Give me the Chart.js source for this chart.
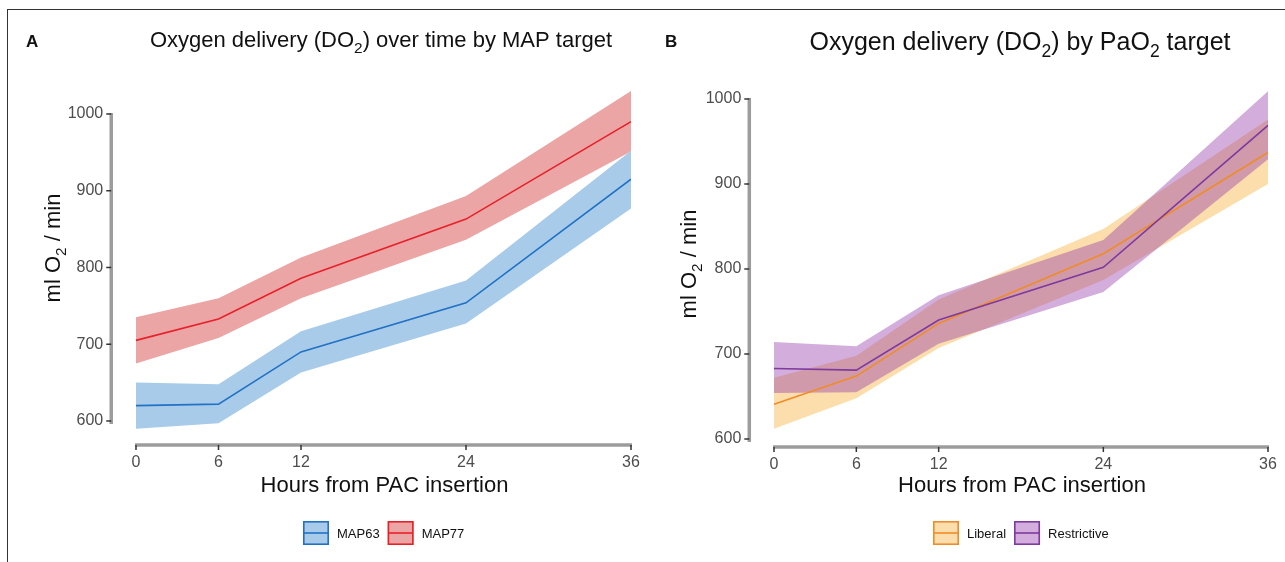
<!DOCTYPE html>
<html>
<head>
<meta charset="utf-8">
<script src="https://cdn.jsdelivr.net/npm/chart.js@4.4.1/dist/chart.umd.min.js"></script>
<style>
  html,body{margin:0;padding:0;background:#fff;}
  body{width:1285px;height:562px;position:relative;overflow:hidden;font-family:"Liberation Sans",Arial,sans-serif;}
  #frame{position:absolute;left:7px;top:9px;width:1320px;height:620px;border:1.6px solid #333;box-sizing:border-box;}
  canvas{position:absolute;top:0;}
  #cA{left:0;}
  #cB{left:640px;}
</style>
</head>
<body>
<div id="frame"></div>
<canvas id="cA" width="660" height="562"></canvas>
<canvas id="cB" width="645" height="562"></canvas>
<script>
// ---------- data ----------
const hours = [0, 6, 12, 24, 36];
const xTicks = [0, 6, 12, 24, 36];
const yTicks = [600, 700, 800, 900, 1000];

// Panel A: MAP target
const map63Mean = [620, 622, 690, 754, 915];
const map63Lo   = [590, 597, 663, 727, 877];
const map63Hi   = [650, 648, 717, 783, 952];
const map77Mean = [705, 733, 786, 863, 990];
const map77Lo   = [675, 708, 760, 836, 951];
const map77Hi   = [735, 760, 813, 893, 1030];

// Panel B: PaO2 target
const liberalMean     = [641, 674, 736, 818, 937];
const liberalLo       = [612, 648, 707, 787, 900];
const liberalHi       = [672, 698, 764, 847, 976];
const restrictiveMean = [683, 681, 740, 802, 969];
const restrictiveLo   = [654, 655, 712, 773, 929];
const restrictiveHi   = [714, 709, 769, 834, 1009];

const FONT = '"Liberation Sans", Arial, sans-serif';

function pts(arr){ return hours.map((h,i)=>({x:h, y:arr[i]})); }

function groupDatasets(name, mean, lo, hi, line, fill){
  return [
    {label:name+' lo', data:pts(lo), borderWidth:0, pointRadius:0, fill:false, borderColor:'rgba(0,0,0,0)'},
    {label:name+' hi', data:pts(hi), borderWidth:0, pointRadius:0, fill:'-1', backgroundColor:fill, borderColor:'rgba(0,0,0,0)'},
    {label:name, data:pts(mean), borderWidth:1.6, pointRadius:0, fill:false, borderColor:line, legendFill:fill}
  ];
}

function drawRich(ctx, parts, x, y, size, align){
  const sub = size*0.7;
  let total = 0;
  parts.forEach(p=>{ ctx.font = (p[1]?sub:size)+'px '+FONT; total += ctx.measureText(p[0]).width; });
  let cx = align==='center' ? x - total/2 : x;
  ctx.textAlign = 'left';
  ctx.textBaseline = 'alphabetic';
  parts.forEach(p=>{
    ctx.font = (p[1]?sub:size)+'px '+FONT;
    ctx.fillText(p[0], cx, p[1] ? y + size*0.28 : y);
    cx += ctx.measureText(p[0]).width;
  });
}

function makeDecor(cfg){
  return {
    id:'decor_'+cfg.letter,
    afterDraw(chart){
      const ctx = chart.ctx;
      const xs = chart.scales.x, ys = chart.scales.y;
      ctx.save();
      // axis lines (capped at tick range)
      ctx.strokeStyle = '#9c9c9c';
      ctx.lineWidth = 3.5;
      ctx.lineCap = 'butt';
      ctx.beginPath();
      const axX = chart.chartArea.left;
      ctx.moveTo(axX, ys.getPixelForValue(yTicks[yTicks.length-1]) - 1);
      ctx.lineTo(axX, ys.getPixelForValue(yTicks[0]) + 3);
      ctx.stroke();
      const axY = chart.chartArea.bottom;
      ctx.beginPath();
      ctx.moveTo(xs.getPixelForValue(xTicks[0]) - 1, axY);
      ctx.lineTo(xs.getPixelForValue(xTicks[xTicks.length-1]) + 1, axY);
      ctx.stroke();
      // tick marks
      ctx.strokeStyle = '#333';
      ctx.lineWidth = 1.5;
      yTicks.forEach(v=>{ const py = ys.getPixelForValue(v); ctx.beginPath(); ctx.moveTo(axX-5, py); ctx.lineTo(axX, py); ctx.stroke(); });
      xTicks.forEach(v=>{ const px = xs.getPixelForValue(v); ctx.beginPath(); ctx.moveTo(px, axY); ctx.lineTo(px, axY+5); ctx.stroke(); });

      // panel letter
      ctx.fillStyle = '#111';
      ctx.font = 'bold 17px '+FONT;
      ctx.textAlign = 'left';
      ctx.textBaseline = 'alphabetic';
      ctx.fillText(cfg.letter, cfg.letterX, 47);
      // title
      ctx.fillStyle = '#111';
      drawRich(ctx, cfg.title, cfg.titleX, cfg.titleY, cfg.titleSize, 'center');
      // x title
      drawRich(ctx, [['Hours from PAC insertion',0]], (xs.getPixelForValue(0)+xs.getPixelForValue(36))/2 + 1, 492, 22, 'center');
      // y title (rotated)
      ctx.save();
      ctx.translate(cfg.yTitleX, cfg.yTitleY);
      ctx.rotate(-Math.PI/2);
      drawRich(ctx, [['ml O',0],['2',1],[' / min',0]], 0, 0, 22, 'center');
      ctx.restore();

      // legend
      const groups = chart.data.datasets.filter(d=>d.legendFill);
      const order = cfg.legendOrder;
      let lx = cfg.legendX;
      const ly = 521, bw = 26, bh = 24;
      order.forEach(idx=>{
        const d = groups[idx];
        ctx.fillStyle = '#fff';
        ctx.fillRect(lx, ly, bw, bh);
        ctx.fillStyle = d.legendFill;
        ctx.fillRect(lx, ly, bw, bh);
        ctx.strokeStyle = d.borderColor;
        ctx.lineWidth = 1.6;
        ctx.strokeRect(lx+0.8, ly+0.8, bw-1.6, bh-1.6);
        ctx.beginPath(); ctx.moveTo(lx+1, ly+bh/2); ctx.lineTo(lx+bw-1, ly+bh/2); ctx.stroke();
        ctx.fillStyle = '#111';
        ctx.font = '13px '+FONT;
        ctx.textBaseline = 'middle';
        ctx.fillText(d.label, lx+bw+8, ly+bh/2+1);
        lx += bw + 8 + ctx.measureText(d.label).width + 8;
      });
      ctx.restore();
    }
  };
}

function makeChart(id, datasets, geo, decor){
  const canvas = document.getElementById(id);
  return new Chart(canvas, {
    type:'line',
    data:{datasets},
    options:{
      responsive:false, animation:false, devicePixelRatio:1,
      layout:{padding:{left:geo.left-60, right:geo.cw-geo.right, top:70, bottom:562-geo.bottom-60}},
      plugins:{legend:{display:false}, tooltip:{enabled:false}, filler:{drawTime:'beforeDatasetsDraw'}},
      elements:{line:{tension:0}},
      scales:{
        x:{type:'linear', min:-1.8, max:36,
           afterBuildTicks(s){ s.ticks = xTicks.map(v=>({value:v})); },
           afterFit(s){ s.height = 60; },
           grid:{display:false, drawOnChartArea:false},
           border:{display:false},
           ticks:{font:{size:16, family:FONT}, color:'#4d4d4d', padding:0, maxRotation:0, autoSkip:false,
                  callback:(v)=>String(v)}},
        y:{type:'linear', min:geo.ymin, max:geo.ymax,
           afterBuildTicks(s){ s.ticks = yTicks.map(v=>({value:v})); },
           afterFit(s){ s.width = 60; },
           grid:{display:false, drawOnChartArea:false},
           border:{display:false},
           ticks:{font:{size:16, family:FONT}, color:'#4d4d4d', padding:0, autoSkip:false,
                  callback:(v)=>String(v)}}
      }
    },
    plugins:[decor]
  });
}

// Panel A
const dsA = [
  ...groupDatasets('MAP63', map63Mean, map63Lo, map63Hi, '#2171c4', '#a9cbea'),
  ...groupDatasets('MAP77', map77Mean, map77Lo, map77Hi, '#e8202a', '#eba5a5')
];
makeChart('cA', dsA,
  {left:111.25, right:631, bottom:445, cw:660, ymin:568.7, ymax:1057.3},
  makeDecor({letter:'A', letterX:26, title:[['Oxygen delivery (DO',0],['2',1],[') over time by MAP target',0]],
             titleX:381, titleY:47, titleSize:22, yTitleX:60, yTitleY:248, legendX:303, legendOrder:[0,1]}));

// Panel B (restrictive first so its band is drawn on top)
const dsB = [
  ...groupDatasets('Restrictive', restrictiveMean, restrictiveLo, restrictiveHi, '#7e3a9e', 'rgba(150,60,170,0.42)'),
  ...groupDatasets('Liberal', liberalMean, liberalLo, liberalHi, '#f08c28', 'rgba(247,176,60,0.42)')
];
makeChart('cB', dsB,
  {left:109.3, right:628, bottom:447, cw:645, ymin:590.6, ymax:1034.1},
  makeDecor({letter:'B', letterX:25, title:[['Oxygen delivery (DO',0],['2',1],[') by PaO',0],['2',1],[' target',0]],
             titleX:380, titleY:50, titleSize:25, yTitleX:56, yTitleY:264, legendX:293, legendOrder:[1,0]}));
</script>
</body>
</html>
